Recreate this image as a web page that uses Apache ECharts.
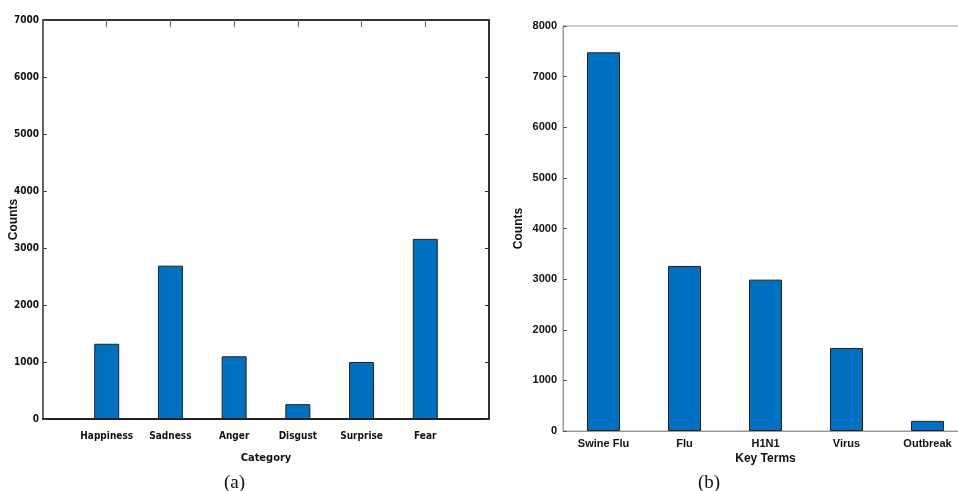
<!DOCTYPE html>
<html lang="en">
<head>
<meta charset="UTF-8">
<title>Emotion and key term counts</title>
<script src="https://cdn.jsdelivr.net/npm/echarts@6/dist/echarts.min.js"></script>
<style>
  html, body { margin: 0; padding: 0; background: #fff; }
  #main { width: 958px; height: 491px; }
</style>
</head>
<body>
<div id="main"></div>
<script>
// (a) emotion categories
var emotionCats = ['Happiness', 'Sadness', 'Anger', 'Disgust', 'Surprise', 'Fear'];
var emotionCounts = [1320, 2690, 1100, 260, 1000, 3160];
var emotionTicks = [0, 1000, 2000, 3000, 4000, 5000, 6000, 7000];

// (b) key terms
var termCats = ['Swine Flu', 'Flu', 'H1N1', 'Virus', 'Outbreak'];
var termCounts = [7480, 3260, 2990, 1640, 200];
var termTicks = [0, 1000, 2000, 3000, 4000, 5000, 6000, 7000, 8000];

// left plot leaves an empty slot at each end
var leftCats = [''].concat(emotionCats, ['']);
var leftVals = [null].concat(emotionCounts, [null]);

var barColor = '#0070c0';
var narrow = '"DejaVu Sans Condensed", "Liberation Sans Narrow", "Liberation Sans", sans-serif';
var sans = '"Liberation Sans", Arial, sans-serif';

var chart = echarts.init(document.getElementById('main'));

chart.setOption({
    animation: false,
    title: [
        { text: '(a)', left: 219, top: 469, textStyle: { fontFamily: '"Liberation Serif", serif', fontSize: 19, fontWeight: 'normal', color: '#111' } },
        { text: '(b)', left: 693, top: 469, textStyle: { fontFamily: '"Liberation Serif", serif', fontSize: 19, fontWeight: 'normal', color: '#111' } }
    ],
    grid: [
        { left: 43, width: 446, top: 20, bottom: 72, show: true, borderColor: '#333', borderWidth: 2, outerBoundsMode: 'none' },
        { left: 563, width: 405, top: 26, bottom: 60, show: true, borderColor: '#999', borderWidth: 1, outerBoundsMode: 'none' }
    ],
    xAxis: [
        {
            gridIndex: 0, type: 'category', data: leftCats, boundaryGap: false,
            axisLine: { lineStyle: { color: '#222', width: 2 } },
            axisTick: { show: false },
            axisLabel: { interval: 0, margin: 12, color: '#111', fontFamily: narrow, fontWeight: 'bold', fontSize: 10 },
            name: 'Category', nameLocation: 'middle', nameGap: 34, nameMoveOverlap: false,
            nameTextStyle: { color: '#111', fontFamily: narrow, fontWeight: 'bold', fontSize: 11 }
        },
        {
            gridIndex: 0, type: 'category', data: leftCats, boundaryGap: false, position: 'top',
            axisLine: { show: false, onZero: false },
            axisTick: { interval: function (i) { return i > 0 && i < leftCats.length - 1; }, inside: true, length: 7, lineStyle: { color: '#666' } },
            axisLabel: { show: false }
        },
        {
            gridIndex: 1, type: 'category', data: termCats,
            axisLine: { lineStyle: { color: '#999', width: 1 } },
            axisTick: { interval: 0, inside: true, alignWithLabel: true, length: 4, lineStyle: { color: '#555' } },
            axisLabel: { interval: 0, margin: 7, color: '#111', fontFamily: sans, fontWeight: 'bold', fontSize: 11 },
            name: 'Key Terms', nameLocation: 'middle', nameGap: 22, nameMoveOverlap: false,
            nameTextStyle: { color: '#111', fontFamily: sans, fontWeight: 'bold', fontSize: 12 }
        },
        {
            gridIndex: 1, type: 'category', data: termCats, position: 'top',
            axisLine: { show: false, onZero: false },
            axisTick: { interval: 0, inside: true, alignWithLabel: true, length: 4, lineStyle: { color: '#555' } },
            axisLabel: { show: false }
        }
    ],
    yAxis: [
        {
            gridIndex: 0, type: 'value', min: 0, max: 7000, interval: 1000,
            axisLine: { show: true, lineStyle: { color: '#666', width: 2 } },
            axisTick: { show: true, inside: true, length: 4, lineStyle: { color: '#444' } },
            splitLine: { show: false },
            axisLabel: {
                margin: 4, color: '#111', fontFamily: narrow, fontWeight: 'bold', fontSize: 10,
                formatter: function (v) { return emotionTicks.indexOf(v) >= 0 ? String(v) : ''; }
            },
            name: 'Counts', nameLocation: 'middle', nameGap: 23, nameRotate: 90, nameMoveOverlap: false,
            nameTextStyle: { color: '#111', fontFamily: sans, fontWeight: 'bold', fontSize: 12 }
        },
        {
            gridIndex: 0, type: 'value', min: 0, max: 7000, interval: 1000, position: 'right',
            axisLine: { show: false, onZero: false },
            axisTick: { show: true, inside: true, length: 4, lineStyle: { color: '#333' } },
            axisLabel: { show: false }, splitLine: { show: false }
        },
        {
            gridIndex: 1, type: 'value', min: 0, max: 8000, interval: 1000,
            axisLine: { show: true, lineStyle: { color: '#999', width: 1 } },
            axisTick: { show: true, inside: true, length: 4, lineStyle: { color: '#555' } },
            splitLine: { show: false },
            axisLabel: {
                margin: 6, color: '#111', fontFamily: sans, fontWeight: 'bold', fontSize: 11,
                formatter: function (v) { return termTicks.indexOf(v) >= 0 ? String(v) : ''; }
            },
            name: 'Counts', nameLocation: 'middle', nameGap: 38, nameRotate: 90, nameMoveOverlap: false,
            nameTextStyle: { color: '#111', fontFamily: sans, fontWeight: 'bold', fontSize: 12 }
        }
    ],
    series: [
        {
            type: 'bar', xAxisIndex: 0, yAxisIndex: 0, data: leftVals, barWidth: 25,
            itemStyle: { color: barColor, borderColor: '#222', borderWidth: 1 }
        },
        {
            type: 'bar', xAxisIndex: 2, yAxisIndex: 2, data: termCounts, barWidth: 33,
            itemStyle: { color: barColor, borderColor: '#222', borderWidth: 1 }
        }
    ]
});
</script>
</body>
</html>
